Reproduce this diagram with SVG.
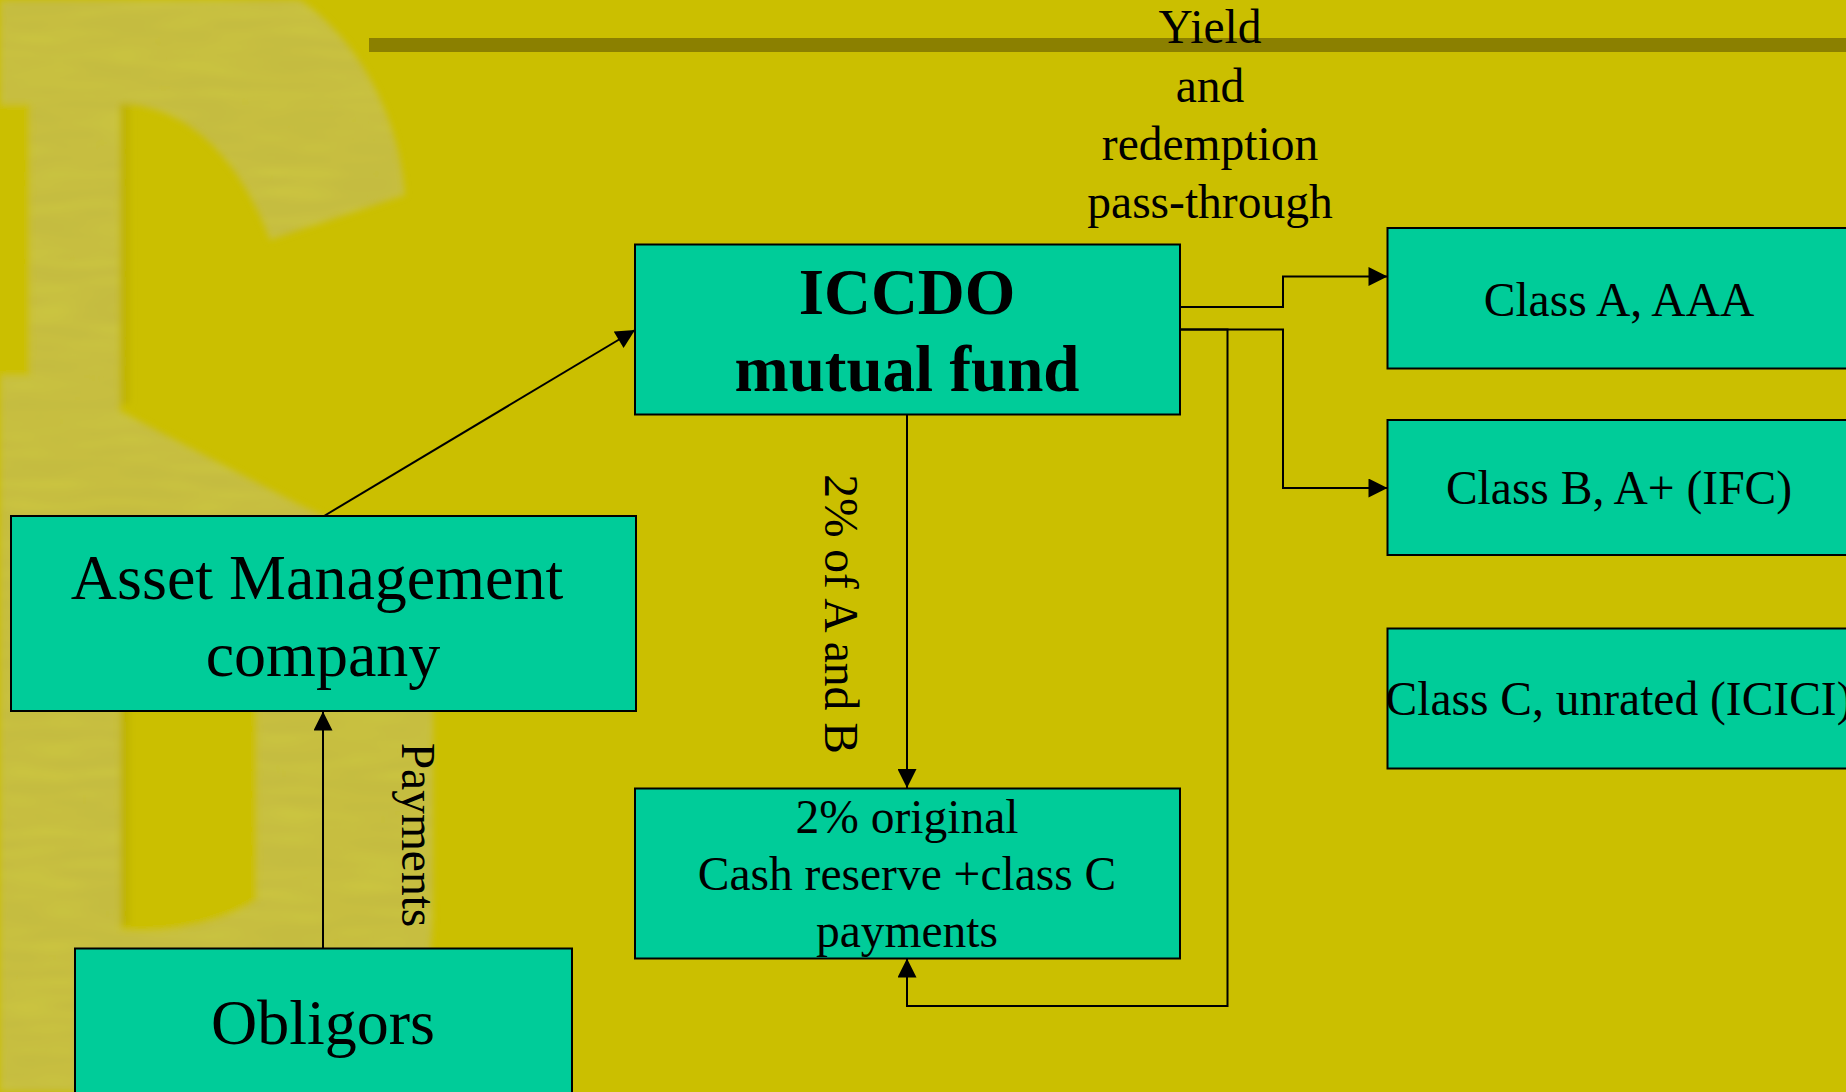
<svg xmlns="http://www.w3.org/2000/svg" width="1846" height="1092" viewBox="0 0 1846 1092">
<style>
  .box { fill: #00CC99; stroke: #000; stroke-width: 2; }
  .t { font-family: "Liberation Serif", "Times New Roman", serif; fill: #000; text-anchor: middle; }
  .lbl { font-size: 47.5px; }
  .big { font-size: 64px; }
  .bold { font-size: 65px; font-weight: bold; }
  .conn { fill: none; stroke: #000; stroke-width: 2; }
  .bg { fill: #CBBF00; }
</style>
<defs>
  <marker id="arr" viewBox="0 0 20 20" refX="20" refY="10" markerWidth="20" markerHeight="19" markerUnits="userSpaceOnUse" orient="auto">
    <path d="M0,0 L20,10 L0,20 Z" fill="#000"/>
  </marker>
  <filter id="soft" x="-10%" y="-10%" width="120%" height="120%">
    <feGaussianBlur stdDeviation="3"/>
  </filter>
  <filter id="tex" x="0" y="0" width="100%" height="100%">
    <feTurbulence type="fractalNoise" baseFrequency="0.012 0.1" numOctaves="2" seed="4" result="n"/>
    <feColorMatrix in="n" type="matrix" values="0 0 0 0 0.6  0 0 0 0 0.56  0 0 0 0 0.05  0 0 0 2.2 -0.85" result="c"/>
    <feComposite in="c" in2="SourceGraphic" operator="in"/>
  </filter>
  <path id="wmShape" d="M 0 0 L 300 0 C 360 40 400 120 405 195 L 270 240 C 240 160 190 106 120 104 L 120 411 L 300 505 C 390 545 433 580 433 650 L 433 900 C 433 990 410 1050 390 1092 L 0 1092 Z"/>
</defs>
<rect x="0" y="0" width="1846" height="1092" class="bg"/>
<g id="watermark" filter="url(#soft)">
  <use href="#wmShape" fill="#C5BC3F"/>
  <use href="#wmShape" fill="#000" filter="url(#tex)"/>
  <rect x="0" y="104" width="30" height="272" class="bg"/>
  <path d="M 120 640 C 190 650 257 680 257 720 L 257 900 C 220 925 160 935 120 930 Z" class="bg"/>
  <rect x="120" y="104" width="10" height="300" fill="#B9AE00" opacity="0.6"/>
  <rect x="120" y="700" width="10" height="225" fill="#B9AE00" opacity="0.6"/>
</g>
<rect id="topbar" x="369" y="38" width="1477" height="14" fill="#8B8000"/>
<g id="connectors">
  <path class="conn" d="M 324 516 L 635 330" marker-end="url(#arr)"/>
  <path class="conn" d="M 323 948 L 323 711.5" marker-end="url(#arr)"/>
  <path class="conn" d="M 907 414 L 907 788" marker-end="url(#arr)"/>
  <path class="conn" d="M 1180 307 H 1283 V 276.5 H 1387.5" marker-end="url(#arr)"/>
  <path class="conn" d="M 1180 329.5 H 1283 V 488 H 1387.5" marker-end="url(#arr)"/>
  <path class="conn" d="M 1180 329.5 H 1227.5 V 1006 H 907 V 958.5" marker-end="url(#arr)"/>
  <text class="t lbl" transform="translate(402 835) rotate(90)">Payments</text>
  <text class="t lbl" transform="translate(825 614) rotate(90)">2% of A and B</text>
  <text class="t lbl" x="1210" y="43">Yield</text>
  <text class="t lbl" x="1210" y="101.5">and</text>
  <text class="t lbl" x="1210" y="160">redemption</text>
  <text class="t lbl" x="1210" y="218">pass-through</text>
</g>
<g id="iccdo">
  <rect class="box" x="635" y="244.5" width="545" height="170"/>
  <text class="t bold" x="907" y="314">ICCDO</text>
  <text class="t bold" x="907" y="391">mutual fund</text>
</g>
<g id="classA">
  <rect class="box" x="1387.5" y="228" width="465" height="140.5"/>
  <text class="t lbl" x="1619" y="315.5">Class A, AAA</text>
</g>
<g id="classB">
  <rect class="box" x="1387.5" y="420" width="465" height="135"/>
  <text class="t lbl" x="1619" y="504">Class B, A+ (IFC)</text>
</g>
<g id="classC">
  <rect class="box" x="1387.5" y="628.5" width="465" height="140"/>
  <text class="t lbl" x="1619" y="715">Class C, unrated (ICICI)</text>
</g>
<g id="asset">
  <rect class="box" x="11" y="516" width="625" height="195"/>
  <text class="t big" x="317" y="599">Asset Management</text>
  <text class="t big" x="323" y="675.5">company</text>
</g>
<g id="obligors">
  <rect class="box" x="75" y="948.5" width="497" height="160"/>
  <text class="t big" x="323" y="1043.5">Obligors</text>
</g>
<g id="cash">
  <rect class="box" x="635" y="788.5" width="545" height="170"/>
  <text class="t lbl" x="907" y="832.5">2% original</text>
  <text class="t lbl" x="907" y="890">Cash reserve +class C</text>
  <text class="t lbl" x="907" y="947">payments</text>
</g>
</svg>
